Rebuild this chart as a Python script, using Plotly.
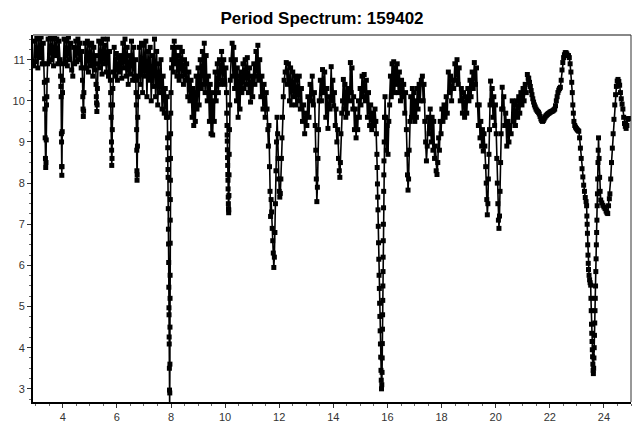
import plotly.graph_objects as go

# Period spectrum: (period, value) pairs, in order of period
seg_3_to_5 = [
    (2.92, 10.85), (2.96, 11.45), (3.00, 10.95), (3.04, 11.55), (3.08, 10.80), (3.12, 11.50),
    (3.16, 11.05), (3.20, 11.55), (3.24, 10.90), (3.28, 11.40), (3.30, 10.90), (3.32, 10.45),
    (3.33, 10.05), (3.34, 9.80), (3.35, 9.10), (3.36, 8.60), (3.37, 8.38), (3.38, 8.50),
    (3.39, 9.05), (3.40, 9.90), (3.41, 10.10), (3.42, 10.50), (3.44, 10.90),
    (3.46, 11.50), (3.50, 10.95), (3.54, 11.55), (3.58, 11.00), (3.62, 11.50), (3.66, 10.85),
    (3.70, 11.55), (3.74, 11.10), (3.78, 11.50), (3.82, 10.90), (3.86, 11.45), (3.90, 11.00),
    (3.92, 10.60), (3.93, 10.35), (3.94, 10.10), (3.95, 9.20), (3.955, 9.00), (3.96, 8.40),
    (3.965, 8.19), (3.97, 8.40), (3.98, 9.25), (3.99, 10.20), (4.00, 10.50), (4.02, 10.90),
    (4.05, 11.50), (4.09, 10.95), (4.13, 11.45), (4.17, 10.85), (4.21, 11.55), (4.25, 11.00),
    (4.29, 11.40), (4.33, 10.75), (4.37, 10.60), (4.40, 11.30), (4.44, 10.90), (4.48, 11.45),
    (4.52, 10.95), (4.56, 11.50), (4.60, 11.00), (4.64, 11.40), (4.68, 10.80), (4.71, 11.20),
    (4.73, 10.50), (4.74, 10.10), (4.75, 9.80), (4.76, 9.62), (4.77, 9.75), (4.78, 10.20),
    (4.80, 10.80), (4.83, 11.40), (4.87, 10.80), (4.91, 11.45), (4.95, 10.70), (4.99, 11.35),
]
seg_5_to_8 = [
    (5.03, 10.85), (5.07, 11.40), (5.11, 10.60), (5.15, 11.30), (5.19, 10.75), (5.22, 11.10),
    (5.23, 10.40), (5.24, 10.10), (5.25, 9.95), (5.26, 9.74), (5.27, 9.90), (5.28, 10.30),
    (5.30, 10.90), (5.33, 11.45), (5.37, 10.80), (5.41, 11.40), (5.45, 10.65), (5.49, 11.50),
    (5.53, 10.90), (5.57, 11.35), (5.61, 10.70), (5.65, 11.50), (5.69, 10.60), (5.73, 11.20),
    (5.76, 10.50), (5.77, 10.20), (5.78, 9.90), (5.79, 9.60), (5.80, 9.00), (5.805, 8.80),
    (5.81, 8.43), (5.82, 8.60), (5.83, 9.30), (5.84, 9.90), (5.85, 10.30), (5.87, 10.70),
    (5.90, 11.30), (5.94, 10.60), (5.98, 11.15), (6.02, 10.50), (6.06, 11.05), (6.10, 10.70),
    (6.14, 11.10), (6.18, 10.55), (6.22, 11.40), (6.26, 10.80), (6.30, 11.50), (6.34, 10.60),
    (6.38, 11.30), (6.42, 10.40), (6.46, 11.10), (6.50, 10.65), (6.54, 11.45), (6.58, 10.50),
    (6.62, 11.30), (6.66, 10.60), (6.69, 11.00), (6.70, 10.50), (6.71, 10.20), (6.72, 9.90),
    (6.73, 9.30), (6.735, 8.80), (6.74, 8.30), (6.745, 8.07), (6.75, 8.20), (6.76, 8.90),
    (6.77, 9.60), (6.78, 10.10), (6.80, 10.60), (6.83, 11.30), (6.87, 10.40), (6.91, 11.40),
    (6.95, 10.20), (6.99, 11.35), (7.03, 10.60), (7.07, 11.45), (7.11, 10.10), (7.15, 11.20),
    (7.19, 10.50), (7.23, 11.30), (7.27, 10.00), (7.31, 11.10), (7.35, 10.35), (7.39, 11.50),
    (7.43, 10.10), (7.47, 11.20), (7.51, 9.90), (7.55, 10.90), (7.59, 10.20), (7.63, 11.00),
    (7.67, 9.80), (7.71, 10.60), (7.75, 9.70), (7.79, 10.30), (7.83, 9.60), (7.86, 10.10),
    (7.87, 9.60), (7.875, 9.10), (7.88, 8.86), (7.885, 8.57), (7.89, 8.33), (7.893, 8.14),
    (7.897, 7.74), (7.90, 7.38), (7.905, 6.88), (7.91, 6.52), (7.915, 6.07), (7.92, 5.47),
    (7.925, 4.97), (7.928, 4.80), (7.932, 4.26), (7.935, 4.09), (7.94, 3.50), (7.945, 2.97),
    (7.95, 2.60), (7.955, 2.90), (7.96, 3.60), (7.962, 4.50), (7.965, 5.20), (7.967, 5.76),
    (7.97, 6.54), (7.972, 7.10), (7.975, 7.60), (7.977, 8.07), (7.98, 8.60), (7.985, 9.20),
    (7.99, 9.70), (8.00, 10.20), (8.02, 10.80),
]
seg_8_to_12 = [
    (8.03, 11.00), (8.06, 11.30), (8.09, 10.70), (8.12, 11.45), (8.15, 10.90), (8.18, 11.30),
    (8.22, 10.60), (8.26, 11.10), (8.30, 10.50), (8.34, 11.30), (8.38, 10.60), (8.42, 11.20),
    (8.46, 10.40), (8.50, 11.00), (8.54, 10.50), (8.58, 10.90), (8.62, 10.10), (8.66, 10.70),
    (8.70, 10.00), (8.74, 10.50), (8.78, 9.60), (8.81, 10.30), (8.84, 9.40), (8.87, 10.20),
    (8.90, 9.50), (8.93, 10.60), (8.96, 9.80), (9.00, 10.80), (9.04, 9.90), (9.08, 11.00),
    (9.12, 10.30), (9.16, 11.20), (9.20, 10.40), (9.23, 11.40), (9.26, 10.20), (9.30, 11.10),
    (9.34, 10.00), (9.38, 10.60), (9.42, 9.50), (9.45, 10.40), (9.48, 9.20), (9.51, 10.20),
    (9.54, 9.17), (9.57, 10.00), (9.60, 9.50), (9.63, 10.70), (9.67, 10.00), (9.71, 10.90),
    (9.75, 10.20), (9.79, 11.00), (9.83, 10.40), (9.87, 11.20), (9.91, 10.50), (9.95, 11.00),
    (9.99, 10.40), (10.03, 10.80), (10.05, 10.20), (10.06, 9.70), (10.07, 9.40), (10.075, 9.17),
    (10.08, 9.02), (10.085, 8.81), (10.09, 8.62), (10.095, 8.43), (10.10, 8.21), (10.105, 8.07),
    (10.11, 7.86), (10.115, 7.66), (10.12, 7.50), (10.125, 7.38), (10.13, 7.28), (10.135, 7.35),
    (10.14, 7.70), (10.145, 8.20), (10.15, 8.70), (10.16, 9.30), (10.17, 9.90), (10.19, 10.50),
    (10.22, 11.00), (10.26, 11.40), (10.29, 10.60), (10.32, 11.30), (10.35, 10.30), (10.38, 11.00),
    (10.42, 10.00), (10.45, 10.80), (10.48, 9.60), (10.52, 10.60), (10.55, 9.80), (10.58, 10.70),
    (10.62, 10.20), (10.66, 10.90), (10.70, 10.30), (10.74, 11.00), (10.78, 10.40), (10.82, 11.05),
    (10.86, 10.20), (10.90, 10.80), (10.94, 9.97), (10.98, 10.60), (11.02, 10.10), (11.06, 10.90),
    (11.10, 10.40), (11.14, 11.20), (11.18, 10.60), (11.21, 11.35), (11.24, 10.50), (11.28, 11.00),
    (11.32, 10.10), (11.36, 10.60), (11.40, 9.80), (11.44, 10.40), (11.48, 9.60), (11.52, 10.20),
    (11.55, 9.80), (11.58, 9.30), (11.60, 8.90), (11.62, 9.40), (11.64, 8.40), (11.66, 7.80),
    (11.68, 7.19), (11.70, 7.60), (11.72, 7.30), (11.74, 6.90), (11.76, 6.60), (11.78, 6.30),
    (11.80, 5.95), (11.82, 6.20), (11.84, 6.80), (11.86, 7.50), (11.88, 8.30), (11.90, 9.00),
    (11.92, 9.60), (11.94, 9.20), (11.96, 8.60), (11.98, 8.10), (12.00, 7.80), (12.02, 7.66),
    (12.04, 7.75), (12.06, 8.10), (12.08, 8.60), (12.10, 9.10), (12.12, 9.60), (12.15, 10.10),
    (12.18, 10.50), (12.22, 10.70), (12.26, 10.93),
]
seg_12_to_16 = [
    (12.30, 10.40), (12.34, 10.90), (12.38, 10.00), (12.42, 10.80), (12.46, 9.90), (12.50, 10.70),
    (12.54, 10.10), (12.58, 10.60), (12.62, 9.90), (12.66, 10.50), (12.70, 10.00), (12.74, 10.60),
    (12.78, 9.80), (12.82, 10.30), (12.86, 9.50), (12.90, 9.90), (12.94, 9.20), (12.98, 9.70),
    (13.02, 9.40), (13.06, 10.10), (13.10, 9.60), (13.14, 10.40), (13.18, 10.00), (13.22, 10.60),
    (13.26, 9.90), (13.30, 10.20), (13.33, 9.40), (13.35, 8.80), (13.37, 8.10), (13.39, 7.55),
    (13.41, 7.90), (13.43, 8.60), (13.45, 9.30), (13.48, 10.00), (13.52, 10.50), (13.56, 10.00),
    (13.60, 10.76), (13.64, 10.20), (13.68, 10.70), (13.72, 9.60), (13.76, 10.30), (13.80, 9.33),
    (13.84, 10.10), (13.88, 9.80), (13.92, 10.83), (13.95, 10.00), (13.98, 10.50), (14.01, 9.88),
    (14.04, 10.20), (14.07, 9.40), (14.10, 9.80), (14.13, 9.00), (14.16, 9.30), (14.19, 8.60),
    (14.22, 8.30), (14.24, 8.14), (14.26, 8.50), (14.28, 9.20), (14.31, 9.70), (14.34, 10.00),
    (14.37, 10.52), (14.40, 9.80), (14.43, 10.40), (14.46, 9.60), (14.49, 10.20), (14.52, 9.70),
    (14.56, 10.30), (14.60, 10.00), (14.63, 10.93), (14.66, 10.20), (14.69, 10.80), (14.72, 9.80),
    (14.75, 10.10), (14.78, 9.30), (14.81, 9.80), (14.84, 9.10), (14.87, 9.60), (14.90, 9.30),
    (14.93, 10.00), (14.96, 9.60), (14.99, 10.30), (15.02, 9.90), (15.06, 10.60), (15.10, 10.10),
    (15.14, 10.64), (15.18, 10.00), (15.22, 10.50), (15.26, 9.60), (15.30, 10.20), (15.34, 9.40),
    (15.38, 9.90), (15.42, 9.30), (15.46, 9.70), (15.50, 9.40), (15.54, 9.80), (15.57, 9.50),
    (15.59, 9.20), (15.61, 8.70), (15.62, 8.38), (15.63, 7.98), (15.64, 7.66), (15.65, 7.35),
    (15.66, 6.95), (15.67, 6.55), (15.68, 6.15), (15.69, 5.76), (15.70, 5.44), (15.71, 5.08),
    (15.72, 4.76), (15.73, 4.41), (15.74, 4.09), (15.75, 3.77), (15.76, 3.45), (15.77, 3.21),
    (15.78, 3.00), (15.79, 3.10), (15.80, 3.40), (15.805, 3.75), (15.81, 4.10), (15.815, 4.45),
    (15.82, 4.80), (15.825, 5.15), (15.83, 5.50), (15.835, 5.85), (15.84, 6.20), (15.845, 6.60),
    (15.85, 7.00), (15.855, 7.40), (15.86, 7.80), (15.865, 8.20), (15.87, 8.54), (15.88, 9.00),
    (15.89, 9.60), (15.91, 10.10),
]
seg_16_to_20 = [
    (15.93, 9.60), (15.96, 8.80), (15.99, 9.40), (16.02, 8.70), (16.05, 9.50), (16.08, 9.90),
    (16.11, 10.60), (16.14, 10.10), (16.17, 10.90), (16.20, 10.30), (16.23, 10.95), (16.26, 10.20),
    (16.29, 10.80), (16.32, 10.40), (16.36, 10.90), (16.40, 10.20), (16.44, 10.70), (16.48, 10.00),
    (16.52, 10.50), (16.56, 10.10), (16.60, 10.40), (16.64, 9.70), (16.67, 10.20), (16.70, 9.30),
    (16.72, 8.70), (16.74, 8.20), (16.76, 7.83), (16.78, 8.10), (16.80, 8.80), (16.83, 9.50),
    (16.86, 10.10), (16.89, 9.60), (16.92, 10.30), (16.95, 9.70), (16.98, 10.20), (17.01, 9.50),
    (17.04, 10.00), (17.07, 9.60), (17.10, 10.30), (17.13, 9.80), (17.17, 10.40), (17.21, 10.00),
    (17.25, 10.50), (17.29, 10.60), (17.32, 10.00), (17.35, 10.40), (17.38, 9.50), (17.41, 9.00),
    (17.44, 8.54), (17.47, 8.90), (17.50, 9.60), (17.54, 9.20), (17.58, 9.80), (17.62, 9.00),
    (17.65, 9.60), (17.68, 8.80), (17.71, 9.50), (17.74, 8.60), (17.77, 8.90), (17.80, 8.30),
    (17.83, 8.21), (17.86, 8.50), (17.89, 9.10), (17.92, 8.80), (17.95, 9.50), (17.98, 9.20),
    (18.01, 9.80), (18.05, 9.50), (18.09, 9.90), (18.13, 9.60), (18.17, 10.10), (18.21, 9.70),
    (18.25, 10.70), (18.29, 10.20), (18.33, 10.60), (18.37, 10.00), (18.41, 10.50), (18.45, 10.30),
    (18.49, 10.90), (18.53, 10.50), (18.57, 11.00), (18.61, 10.40), (18.65, 10.80), (18.69, 10.00),
    (18.73, 10.30), (18.77, 9.70), (18.81, 10.20), (18.85, 9.60), (18.89, 10.10), (18.93, 9.70),
    (18.97, 10.30), (19.01, 10.00), (19.05, 10.50), (19.09, 10.10), (19.13, 10.70), (19.17, 10.30),
    (19.21, 10.93), (19.25, 10.40), (19.29, 10.80), (19.33, 9.90), (19.36, 9.40), (19.39, 9.90),
    (19.42, 9.10), (19.45, 9.50), (19.48, 8.90), (19.51, 9.30), (19.54, 8.78), (19.57, 9.20),
    (19.60, 8.90), (19.63, 8.40), (19.65, 8.00), (19.67, 7.60), (19.69, 7.23), (19.71, 7.50),
    (19.73, 8.10), (19.75, 8.70), (19.77, 9.30), (19.79, 9.90), (19.81, 10.48), (19.84, 10.00),
    (19.87, 10.30), (19.90, 9.60), (19.93, 10.10), (19.96, 9.40), (19.99, 9.90),
]
seg_20_to_25 = [
    (20.02, 9.20), (20.04, 8.60), (20.06, 8.00), (20.08, 7.50), (20.10, 7.10), (20.12, 6.90),
    (20.14, 7.20), (20.16, 7.80), (20.18, 8.50), (20.20, 9.20), (20.22, 9.80), (20.24, 10.33),
    (20.27, 9.80), (20.30, 10.10), (20.33, 9.40), (20.37, 9.70), (20.41, 8.90), (20.45, 9.50),
    (20.49, 9.00), (20.53, 9.40), (20.57, 9.20), (20.61, 10.00), (20.65, 9.50), (20.69, 9.90),
    (20.73, 9.40), (20.77, 10.00), (20.81, 9.60), (20.85, 10.10), (20.89, 9.70), (20.93, 10.20),
    (20.97, 9.90), (21.01, 10.30), (21.05, 10.00), (21.09, 10.40), (21.13, 10.20), (21.17, 10.64),
    (21.20, 10.55), (21.22, 10.55), (21.25, 10.45), (21.28, 10.35), (21.31, 10.25), (21.34, 10.15),
    (21.37, 10.05), (21.40, 9.97), (21.43, 9.90), (21.46, 9.85), (21.49, 9.80), (21.52, 9.77),
    (21.55, 9.74), (21.58, 9.72), (21.61, 9.68), (21.64, 9.62), (21.67, 9.56), (21.70, 9.52),
    (21.73, 9.50), (21.76, 9.52), (21.79, 9.56), (21.82, 9.60), (21.85, 9.63), (21.88, 9.65),
    (21.91, 9.67), (21.94, 9.69), (21.97, 9.70), (22.00, 9.72), (22.03, 9.73), (22.06, 9.74),
    (22.09, 9.75), (22.12, 9.76), (22.15, 9.78), (22.18, 9.80), (22.21, 9.88), (22.24, 10.00),
    (22.27, 10.10), (22.30, 10.20), (22.33, 10.26), (22.36, 10.30), (22.39, 10.33), (22.42, 10.50),
    (22.45, 10.75), (22.48, 10.93), (22.51, 11.05), (22.54, 11.12), (22.57, 11.17), (22.60, 11.17),
    (22.63, 11.14), (22.66, 11.10), (22.69, 11.10), (22.72, 11.05), (22.75, 10.90), (22.78, 10.70),
    (22.81, 10.45), (22.83, 10.20), (22.85, 9.90), (22.87, 9.70), (22.89, 9.50), (22.92, 9.40),
    (22.95, 9.36), (22.98, 9.33), (23.01, 9.30), (23.04, 9.28), (23.07, 9.26), (23.10, 9.10),
    (23.13, 8.85), (23.16, 8.60), (23.19, 8.35), (23.22, 8.15), (23.25, 7.95), (23.28, 7.80),
    (23.31, 7.65), (23.34, 7.55), (23.36, 7.45), (23.37, 7.20), (23.38, 7.00), (23.39, 6.78),
    (23.40, 6.50), (23.41, 6.25), (23.42, 6.05), (23.43, 5.90), (23.45, 5.76), (23.47, 5.65),
    (23.49, 5.58), (23.51, 5.52), (23.52, 5.20), (23.53, 4.90), (23.54, 4.57), (23.55, 4.35),
    (23.56, 4.15), (23.57, 3.95), (23.58, 3.78), (23.59, 3.60), (23.60, 3.45), (23.61, 3.37),
    (23.62, 3.50), (23.63, 3.75), (23.64, 4.00), (23.65, 4.30), (23.66, 4.60), (23.67, 4.90),
    (23.68, 5.20), (23.69, 5.50), (23.70, 5.85), (23.71, 6.16), (23.72, 6.50), (23.73, 6.80),
    (23.74, 7.10), (23.75, 7.45), (23.76, 7.74), (23.77, 8.10), (23.78, 8.50), (23.79, 8.80),
    (23.80, 9.10), (23.82, 8.60), (23.84, 8.14), (23.86, 7.80), (23.88, 7.59), (23.92, 7.52),
    (23.96, 7.46), (24.00, 7.42), (24.04, 7.38), (24.08, 7.32), (24.11, 7.28), (24.14, 7.26),
    (24.17, 7.45), (24.20, 7.62), (24.22, 7.74), (24.25, 8.10), (24.28, 8.50), (24.31, 8.85),
    (24.34, 9.20), (24.37, 9.55), (24.40, 9.90), (24.43, 10.15), (24.46, 10.35), (24.49, 10.48),
    (24.52, 10.52), (24.55, 10.47), (24.58, 10.38), (24.61, 10.20), (24.64, 10.05), (24.67, 9.92),
    (24.70, 9.80), (24.73, 9.60), (24.76, 9.45), (24.79, 9.38), (24.82, 9.33), (24.85, 9.40),
    (24.88, 9.55), (24.91, 9.57),
]

title_text = "Period Spectrum: 159402"
x_ticks = [4, 6, 8, 10, 12, 14, 16, 18, 20, 22, 24]
y_ticks = [3, 4, 5, 6, 7, 8, 9, 10, 11]

points = seg_3_to_5 + seg_5_to_8 + seg_8_to_12 + seg_12_to_16 + seg_16_to_20 + seg_20_to_25
period = [p for p, _ in points]
value = [v for _, v in points]

fig = go.Figure()
fig.add_trace(go.Scatter(
    x=period, y=value, mode="lines+markers",
    line=dict(color="black", width=1.6),
    marker=dict(symbol="square", size=5, color="black", line=dict(width=0)),
    hoverinfo="x+y", showlegend=False,
))

tick_font = dict(family="Liberation Sans, Arial, sans-serif", size=11, color="#333333")
fig.update_layout(
    width=644, height=435,
    margin=dict(l=33, r=13, t=35, b=26),
    paper_bgcolor="white", plot_bgcolor="white",
    title=dict(text=f"<b>{title_text}</b>", x=0.5, xanchor="center", y=1 - 18 / 435,
               yanchor="middle", yref="container",
               font=dict(family="Liberation Sans, Arial, sans-serif", size=17, color="black")),
    xaxis=dict(range=[2.9, 25.0], tickvals=x_ticks, ticktext=[str(t) for t in x_ticks],
               showgrid=False, zeroline=False, showline=True, linecolor="black", linewidth=2,
               ticks="outside", ticklen=4, tickcolor="#333333", tickwidth=1, tickfont=tick_font,
               minor=dict(dtick=0.5, ticks="outside", ticklen=2, tickcolor="#666666", showgrid=False)),
    yaxis=dict(range=[2.68, 11.6], tickvals=y_ticks, ticktext=[str(t) for t in y_ticks],
               showgrid=False, zeroline=False, showline=True, linecolor="black", linewidth=2,
               ticks="outside", ticklen=4, tickcolor="#333333", tickwidth=1, tickfont=tick_font,
               minor=dict(dtick=0.25, ticks="outside", ticklen=2, tickcolor="#666666", showgrid=False)),
    shapes=[
        dict(type="line", xref="paper", yref="paper", x0=0, x1=1, y0=1, y1=1,
             line=dict(color="#888888", width=2)),
        dict(type="line", xref="paper", yref="paper", x0=1, x1=1, y0=0, y1=1,
             line=dict(color="#333333", width=1)),
    ],
)

fig.write_html("out.html")
